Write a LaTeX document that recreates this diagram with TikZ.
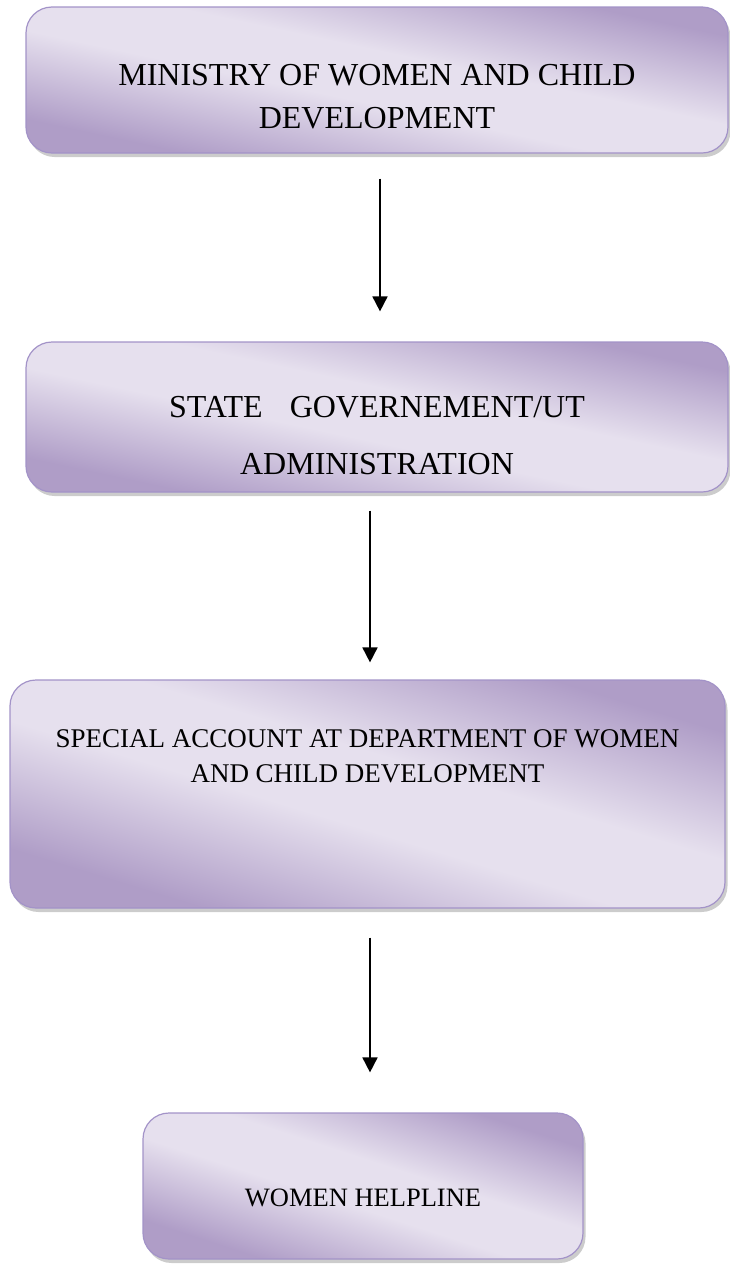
\documentclass[tikz,border=0pt]{standalone}
\usepackage{fontspec}
\setmainfont{Liberation Serif}
\usetikzlibrary{arrows.meta,shadows}

\definecolor{lavdark}{HTML}{AF9DC7}
\definecolor{lavlight}{HTML}{E6E0EE}
\definecolor{lavline}{HTML}{A393C8}
\pgfdeclareverticalshading{lavender}{100bp}{color(0bp)=(lavdark); color(27bp)=(lavdark); color(45bp)=(lavlight); color(56bp)=(lavlight); color(74bp)=(lavdark); color(100bp)=(lavdark)}

\begin{document}
\begin{tikzpicture}[x=1pt, y=-1pt,
    box/.style = {draw=lavline, line width=1.2pt, rounded corners=26pt, shade, shading=lavender, shading angle=-12,
                  drop shadow={shadow xshift=2.5pt, shadow yshift=-4pt, fill=black!40}, inner sep=0pt},
    txt/.style = {align=center, inner sep=0pt},
    arr/.style = {line width=1.8pt, -{Triangle[length=15pt,width=15pt]}}]
    \useasboundingbox (0,0) rectangle (730,1264);
            \node[box, minimum width=702pt, minimum height=146pt] (1) at (377,80) {};
            \node[box, minimum width=702pt, minimum height=150pt] (2) at (377,417) {};
            \node[box, minimum width=715pt, minimum height=228pt, shading angle=-17] (3) at (367.5,794) {};
            \node[box, minimum width=440pt, minimum height=146pt, shading angle=-18] (4) at (363,1186) {};
            \node[txt, font=\fontsize{32}{43}\selectfont] (1t) at (377,97) {MINISTRY OF WOMEN AND CHILD\\DEVELOPMENT};
            \node[txt, font=\fontsize{32}{57}\selectfont] (2t) at (377,436) {STATE\hspace{0.6em} GOVERNEMENT/UT\\ADMINISTRATION};
            \node[txt, font=\fontsize{27}{35}\selectfont] (3t) at (367.5,756) {SPECIAL ACCOUNT AT DEPARTMENT OF WOMEN\\AND CHILD DEVELOPMENT};
            \node[txt, font=\fontsize{26.5}{31}\selectfont] (4t) at (363,1198) {WOMEN HELPLINE};
            \draw[arr] ([xshift=3pt,yshift=-25pt]1.south) -- ([xshift=3pt,yshift=30pt]2.north);
            \draw[arr] ([xshift=-7pt,yshift=-18pt]2.south) -- ([xshift=2.5pt,yshift=17pt]3.north);
            \draw[arr] ([xshift=2.5pt,yshift=-29pt]3.south) -- ([xshift=7pt,yshift=40pt]4.north);
        \end{tikzpicture}
\end{document}
